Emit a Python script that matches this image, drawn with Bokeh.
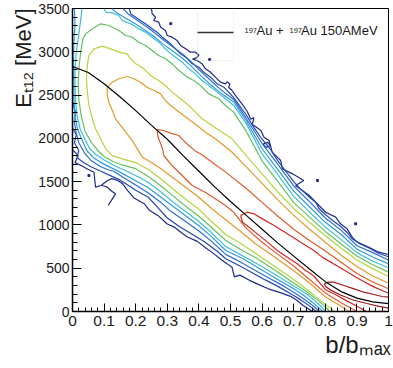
from bokeh.plotting import figure
from bokeh.models import FixedTicker, Range1d, BoxAnnotation, Label, Title
from bokeh.embed import file_html
from bokeh.resources import INLINE

# ---------------- axes ----------------
X_TICKS = [0.0, 0.1, 0.2, 0.3, 0.4, 0.5, 0.6, 0.7, 0.8, 0.9, 1.0]
X_TICK_LABELS = ["0", "0.1", "0.2", "0.3", "0.4", "0.5", "0.6", "0.7", "0.8", "0.9", "1"]
X_MINOR = [round(i * 0.02, 2) for i in range(51)]
Y_TICKS = [0, 500, 1000, 1500, 2000, 2500, 3000, 3500]
Y_MINOR = list(range(0, 3501, 100))
X_TITLE = "b/b\u2098\u2090\u2093"          # b/b_max
Y_TITLE = "E\u209c\u2081\u2082 [MeV]"       # E_t12 [MeV]

# ---------------- black reference curve ----------------
CURVE_B = [0.0, 0.05, 0.1, 0.15, 0.2, 0.25, 0.3, 0.35, 0.4, 0.45, 0.5, 0.55, 0.6, 0.65, 0.7, 0.75, 0.8, 0.85, 0.9, 0.95, 1.0]
CURVE_E = [2830, 2760, 2630, 2480, 2320, 2150, 1990, 1800, 1620, 1440, 1270, 1110, 950, 790, 640, 490, 345, 230, 155, 112, 90]

# ---------------- contour lines (b/bmax, Et12) ----------------
NAVY_A = [(0.25,3500),(0.252,3439),(0.263,3400),(0.257,3361),(0.273,3342),(0.279,3284),(0.294,3246),(0.30,3188),(0.315,3169),(0.331,3130),(0.342,3073),(0.358,3034),(0.373,2995),(0.389,2995),(0.40,2960),(0.392,2930),(0.38,2915),(0.394,2899),(0.41,2861),(0.421,2803),(0.437,2764),(0.452,2707),(0.468,2649),(0.484,2630),(0.49,2655),(0.498,2625),(0.494,2591),(0.505,2553),(0.515,2500),(0.538,2390),(0.553,2310),(0.564,2220),(0.574,2240),(0.569,2160),(0.58,2135),(0.596,2091),(0.606,2014),(0.622,1975),(0.632,1840),(0.648,1783),(0.659,1744),(0.664,1648),(0.696,1590),(0.732,1513),(0.706,1455),(0.749,1340),(0.78,1224),(0.801,1147),(0.833,1090),(0.848,1013),(0.869,955),(0.885,859),(0.901,801),(0.938,743),(0.969,685),(1.0,658)]
NAVY_B = [(0.0,1870),(0.018,1800),(0.008,1720),(0.03,1680),(0.05,1640),(0.068,1609),(0.073,1436),(0.09,1455),(0.111,1513),(0.125,1535),(0.143,1513),(0.159,1475),(0.174,1398),(0.195,1310),(0.227,1245),(0.243,1170),(0.27,1110),(0.3,1010),(0.322,975),(0.348,900),(0.364,860),(0.395,810),(0.42,740),(0.45,660),(0.47,600),(0.49,550),(0.505,510),(0.512,400),(0.53,420),(0.56,360),(0.59,310),(0.62,262),(0.66,215),(0.69,175),(0.71,130),(0.73,70),(0.76,0)]
NAVY_C = [(0.094,1455),(0.11,1436),(0.121,1398),(0.136,1359),(0.126,1301),(0.113,1224)]
NAVY_D = [(0.603,1935),(0.612,1895),(0.626,1915),(0.617,1955),(0.603,1935)]
NAVY_DOTS_B = [0.311, 0.434, 0.775, 0.896, 0.052]
NAVY_DOTS_E = [3325, 2910, 1513, 1013, 1571]

BLUE_A = [(0.18,3500),(0.184,3438),(0.2,3400),(0.215,3361),(0.231,3323),(0.252,3265),(0.268,3227),(0.284,3169),(0.305,3111),(0.326,3034),(0.342,2976),(0.358,2938),(0.379,2861),(0.4,2822),(0.415,2765),(0.437,2707),(0.458,2630),(0.479,2591),(0.494,2534),(0.51,2470),(0.53,2370),(0.55,2270),(0.575,2120),(0.6,1990),(0.625,1880),(0.65,1740),(0.675,1620),(0.7,1500),(0.72,1420),(0.735,1370),(0.75,1320),(0.77,1260),(0.78,1190),(0.8,1120),(0.82,1060),(0.848,985),(0.87,910),(0.885,840),(0.906,790),(0.938,735),(0.97,670),(1.0,632)]
BLUE_B = [(0.0,2120),(0.012,2040),(0.006,1950),(0.02,1860),(0.014,1780),(0.035,1720),(0.06,1670),(0.09,1620),(0.12,1570),(0.15,1520),(0.18,1450),(0.2,1400),(0.24,1320),(0.27,1200),(0.3,1080),(0.34,975),(0.38,890),(0.42,800),(0.46,690),(0.485,610),(0.53,525),(0.57,445),(0.61,365),(0.65,290),(0.7,185),(0.72,140),(0.75,65),(0.772,0)]

MID_A = [(0.16,3500),(0.175,3440),(0.2,3375),(0.23,3300),(0.26,3220),(0.29,3130),(0.32,3050),(0.35,2970),(0.38,2870),(0.41,2760),(0.44,2660),(0.47,2560),(0.51,2450),(0.55,2230),(0.6,1940),(0.65,1700),(0.7,1450),(0.75,1270),(0.8,1080),(0.85,940),(0.9,760),(0.95,680),(1.0,595)]
MID_B = [(0.0,2420),(0.01,2300),(0.006,2180),(0.012,2060),(0.02,1950),(0.04,1820),(0.06,1740),(0.085,1680),(0.11,1640),(0.13,1620),(0.16,1550),(0.2,1460),(0.24,1370),(0.28,1260),(0.31,1160),(0.35,1060),(0.4,930),(0.44,810),(0.485,660),(0.53,575),(0.57,490),(0.62,390),(0.67,290),(0.7,223),(0.73,150),(0.76,70),(0.782,0)]

LIGHT_A = [(0.125,3500),(0.14,3450),(0.17,3385),(0.2,3320),(0.23,3250),(0.26,3170),(0.29,3080),(0.32,3000),(0.35,2920),(0.38,2820),(0.41,2710),(0.44,2610),(0.47,2520),(0.51,2420),(0.55,2200),(0.6,1880),(0.65,1640),(0.7,1390),(0.75,1210),(0.8,1030),(0.85,890),(0.9,720),(0.95,630),(1.0,550)]
LIGHT_B = [(0.006,3500),(0.008,3300),(0.004,3100),(0.003,2900),(0.004,2600),(0.005,2400),(0.008,2250),(0.015,2120),(0.028,2000),(0.045,1860),(0.065,1780),(0.09,1720),(0.12,1665),(0.15,1610),(0.2,1510),(0.24,1430),(0.28,1320),(0.32,1210),(0.36,1100),(0.4,990),(0.44,865),(0.485,705),(0.54,610),(0.59,500),(0.64,390),(0.7,262),(0.73,190),(0.76,105),(0.792,0)]

CYAN_A = [(0.10,3500),(0.105,3458),(0.126,3450),(0.147,3419),(0.157,3361),(0.184,3323),(0.21,3265),(0.231,3227),(0.252,3169),(0.273,3111),(0.289,3053),(0.305,2996),(0.326,2938),(0.347,2880),(0.368,2803),(0.389,2745),(0.41,2668),(0.431,2611),(0.458,2534),(0.484,2457),(0.51,2380),(0.55,2170),(0.6,1820),(0.65,1580),(0.7,1330),(0.75,1150),(0.8,975),(0.85,830),(0.9,680),(0.95,580),(1.0,505)]
CYAN_B = [(0.03,3500),(0.027,3400),(0.02,3200),(0.012,3000),(0.008,2800),(0.008,2600),(0.01,2400),(0.015,2250),(0.025,2100),(0.04,1980),(0.055,1880),(0.075,1810),(0.1,1750),(0.13,1690),(0.16,1640),(0.2,1570),(0.24,1490),(0.28,1380),(0.32,1260),(0.36,1150),(0.4,1040),(0.44,910),(0.485,750),(0.53,660),(0.58,560),(0.64,430),(0.7,295),(0.74,205),(0.77,115),(0.802,0)]

GREEN_A = [(0.063,3265),(0.089,3323),(0.115,3304),(0.147,3246),(0.168,3188),(0.189,3169),(0.21,3111),(0.231,3073),(0.252,3015),(0.273,2957),(0.294,2919),(0.315,2861),(0.337,2784),(0.363,2707),(0.384,2668),(0.405,2611),(0.431,2514),(0.463,2457),(0.484,2380),(0.51,2303),(0.55,2080),(0.6,1740),(0.65,1500),(0.7,1260),(0.75,1090),(0.8,925),(0.85,780),(0.9,640),(0.95,540),(1.0,455)]
GREEN_B = [(0.063,3265),(0.042,3207),(0.033,3150),(0.026,2996),(0.021,2842),(0.018,2650),(0.02,2450),(0.028,2250),(0.04,2080),(0.06,1950),(0.08,1860),(0.1,1790),(0.13,1730),(0.16,1690),(0.2,1650),(0.24,1560),(0.28,1450),(0.32,1330),(0.36,1210),(0.4,1100),(0.44,970),(0.485,820),(0.53,720),(0.58,620),(0.64,480),(0.7,330),(0.74,230),(0.78,120),(0.815,0)]

YGREEN_A = [(0.094,3065),(0.121,3034),(0.147,2996),(0.173,2976),(0.184,2919),(0.2,2861),(0.226,2803),(0.247,2726),(0.273,2668),(0.294,2611),(0.315,2534),(0.342,2457),(0.368,2380),(0.389,2303),(0.41,2226),(0.442,2149),(0.473,2071),(0.505,1995),(0.55,1800),(0.6,1590),(0.65,1380),(0.7,1190),(0.75,1030),(0.8,875),(0.85,730),(0.9,595),(0.95,495),(1.0,405)]
YGREEN_B = [(0.094,3065),(0.068,3034),(0.052,2957),(0.047,2842),(0.044,2688),(0.047,2534),(0.052,2380),(0.063,2226),(0.073,2110),(0.089,1995),(0.105,1879),(0.126,1800),(0.16,1760),(0.2,1720),(0.24,1640),(0.28,1530),(0.32,1410),(0.36,1290),(0.4,1180),(0.44,1040),(0.485,890),(0.53,790),(0.58,670),(0.64,520),(0.7,370),(0.74,260),(0.78,140),(0.83,0)]

ORANGE_A = [(0.173,2715),(0.194,2688),(0.215,2649),(0.236,2591),(0.258,2553),(0.279,2514),(0.294,2437),(0.31,2380),(0.331,2322),(0.352,2264),(0.373,2206),(0.394,2149),(0.421,2071),(0.452,1995),(0.479,1918),(0.505,1840),(0.55,1670),(0.6,1480),(0.65,1290),(0.7,1110),(0.75,950),(0.8,800),(0.85,650),(0.9,520),(0.95,410),(1.0,330)]
ORANGE_B = [(0.173,2715),(0.147,2688),(0.126,2649),(0.11,2591),(0.11,2495),(0.115,2418),(0.126,2322),(0.136,2226),(0.152,2149),(0.173,2052),(0.189,1975),(0.205,1879),(0.221,1783),(0.25,1720),(0.28,1650),(0.32,1540),(0.36,1430),(0.4,1320),(0.44,1190),(0.485,1060),(0.53,930),(0.58,780),(0.64,630),(0.7,470),(0.75,330),(0.8,170),(0.85,60),(0.875,0)]

REDORANGE_A = [(0.268,2100),(0.289,2091),(0.31,2060),(0.336,2033),(0.35,1980),(0.368,1918),(0.39,1850),(0.41,1810),(0.45,1700),(0.485,1610),(0.55,1420),(0.6,1260),(0.65,1100),(0.7,950),(0.75,820),(0.8,700),(0.85,570),(0.9,440),(0.95,340),(1.0,262)]
REDORANGE_B = [(0.268,2100),(0.27,2030),(0.273,1995),(0.285,1880),(0.289,1802),(0.315,1686),(0.347,1571),(0.379,1455),(0.42,1378),(0.452,1302),(0.484,1224),(0.51,1147),(0.55,960),(0.6,800),(0.65,660),(0.7,525),(0.75,370),(0.8,215),(0.85,100),(0.9,0)]

RED_A = [(0.532,1109),(0.553,1147),(0.574,1128),(0.601,1070),(0.638,993),(0.68,897),(0.722,801),(0.764,705),(0.79,628),(0.85,500),(0.9,390),(0.95,290),(1.0,211)]
RED_B = [(0.532,1109),(0.538,1032),(0.559,974),(0.585,897),(0.617,801),(0.648,705),(0.68,628),(0.711,551),(0.738,474),(0.764,410),(0.785,320),(0.8,255),(0.83,200),(0.87,120),(0.9,60),(0.93,0)]

DARKRED_A = [(0.797,320),(0.81,340),(0.827,339),(0.859,300),(0.891,262),(0.922,223),(0.954,196),(0.98,173),(1.0,165)]
DARKRED_B = [(0.797,320),(0.801,290),(0.816,250),(0.848,190),(0.89,130),(0.932,92),(0.97,60),(1.0,40)]

LEVELS = [
    ("#1f2a8a", [NAVY_A, NAVY_B, NAVY_C, NAVY_D]),
    ("#2447ae", [BLUE_A, BLUE_B]),
    ("#2a6fcc", [MID_A, MID_B]),
    ("#3198dc", [LIGHT_A, LIGHT_B]),
    ("#3dbfd5", [CYAN_A, CYAN_B]),
    ("#62c25e", [GREEN_A, GREEN_B]),
    ("#b5d53e", [YGREEN_A, YGREEN_B]),
    ("#e39a2d", [ORANGE_A, ORANGE_B]),
    ("#e05a2b", [REDORANGE_A, REDORANGE_B]),
    ("#cf2a26", [RED_A, RED_B]),
    ("#9e1a1a", [DARKRED_A, DARKRED_B]),
]

LEGEND_SUP = ["197", "197"]
LEGEND_MAIN = ["Au +", "Au 150AMeV"]

FONT = "Liberation Sans"
TXT = "#1a1a1a"

# page geometry (pixels)
W, H = 393, 368
FL, FR, FT, FB = 72, 388, 8, 311   # frame edges
E_MAX = 3500.0


def px2b(sx):
    return (sx - FL) / (FR - FL)


def py2e(sy):
    return (FB - sy) / (FB - FT) * E_MAX


p = figure(width=W, height=H, output_backend="svg", toolbar_location=None,
           x_range=Range1d(0, 1), y_range=Range1d(0, E_MAX),
           min_border_left=FL, min_border_right=W - FR, min_border_top=FT,
           min_border_bottom=H - FB)
p.background_fill_color = "white"
p.border_fill_color = "white"
p.outline_line_color = "black"
p.outline_line_width = 1
p.xgrid.visible = False
p.ygrid.visible = False

p.xaxis.ticker = FixedTicker(ticks=X_TICKS, minor_ticks=X_MINOR)
p.xaxis.major_label_overrides = {t: l for t, l in zip(X_TICKS, X_TICK_LABELS)}
p.yaxis.ticker = FixedTicker(ticks=Y_TICKS, minor_ticks=Y_MINOR)
for ax in (p.xaxis[0], p.yaxis[0]):
    ax.axis_line_color = "black"
    ax.axis_line_width = 1.5
    ax.major_tick_line_color = "black"
    ax.minor_tick_line_color = "black"
    ax.major_tick_out = 0
    ax.minor_tick_out = 0
    ax.major_label_text_font = FONT
    ax.major_label_text_color = TXT
p.xaxis.major_tick_in = 8
p.xaxis.minor_tick_in = 4
p.yaxis.major_tick_in = 9
p.yaxis.minor_tick_in = 5
p.xaxis.major_label_text_font_size = "15.5px"
p.yaxis.major_label_text_font_size = "14px"
p.xaxis.major_label_standoff = 4
p.yaxis.major_label_standoff = 3

for colour, pieces in LEVELS:
    for piece in pieces:
        p.line([q[0] for q in piece], [q[1] for q in piece], line_color=colour, line_width=1.2)
p.scatter(NAVY_DOTS_B, NAVY_DOTS_E, marker="square", size=2, line_color="#1f2a8a", fill_color="#1f2a8a")

p.line(CURVE_B, CURVE_E, line_color="black", line_width=1.2)

# legend (box with line sample, text to its right)
p.add_layout(BoxAnnotation(left=px2b(197), right=px2b(233), top=py2e(3), bottom=py2e(60),
                           fill_alpha=0, line_color="#d6d6d6", line_width=1))
p.add_layout(BoxAnnotation(left=px2b(197), right=px2b(233), top=py2e(31.3), bottom=py2e(32.7),
                           fill_color="#333333", fill_alpha=1, line_alpha=0))
for sx, txt in zip([244, 289], LEGEND_SUP):
    p.add_layout(Label(x=px2b(sx), y=py2e(32), text=txt, text_font=FONT,
                       text_font_size="7.5px", text_color=TXT))
for sx, txt in zip([256, 300.5], LEGEND_MAIN):
    p.add_layout(Label(x=px2b(sx), y=py2e(37), text=txt, text_font=FONT,
                       text_font_size="13px", text_color=TXT))

# axis titles (ROOT style: at the far end of each axis)
p.add_layout(Title(text=Y_TITLE, align="right", text_font=FONT, text_font_size="22px",
                   text_font_style="normal", text_color=TXT, standoff=0, offset=0), "left")
p.add_layout(Title(text=X_TITLE, align="right", text_font=FONT, text_font_size="24px",
                   text_font_style="normal", text_color=TXT, standoff=0, offset=-2), "below")

open("out.html", "w").write(file_html(p, INLINE))
